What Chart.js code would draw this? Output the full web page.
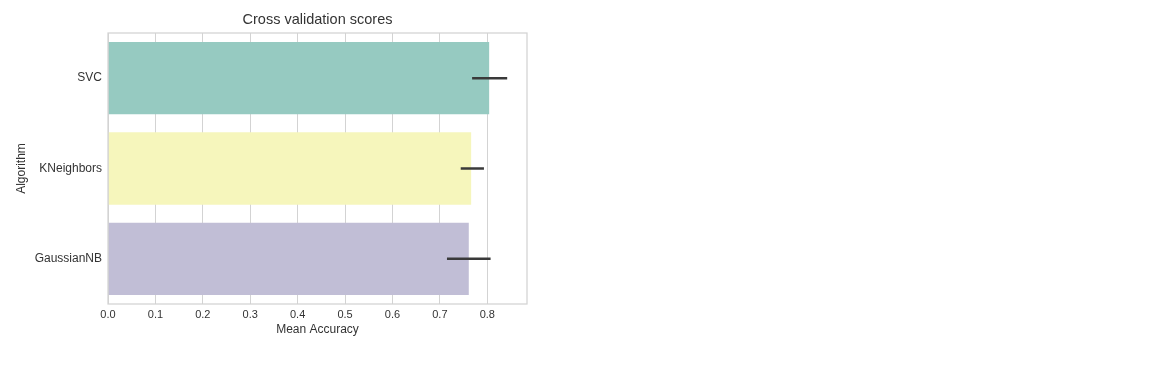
<!DOCTYPE html>
<html>
<head>
<meta charset="utf-8">
<script src="https://cdn.jsdelivr.net/npm/chart.js@4"></script>
<style>
  html, body { margin: 0; padding: 0; background: #ffffff; }
  #wrap { width: 1155px; height: 371px; }
</style>
</head>
<body>
<div id="wrap"><canvas id="c" width="1155" height="371"></canvas></div>
<script>
const algorithms = ["SVC", "KNeighbors", "GaussianNB"];
const meanAccuracy = [0.804, 0.766, 0.761];
const errLow = [0.768, 0.744, 0.715];
const errHigh = [0.842, 0.793, 0.807];
const barColors = ["#96cac1", "#f6f6bc", "#c1bed6"];
const xTicks = [0.0, 0.1, 0.2, 0.3, 0.4, 0.5, 0.6, 0.7, 0.8];

const FONT = "'Liberation Sans', Arial, Helvetica, sans-serif";
const TEXT = "#333333";
const GRID = "#d3d3d3";

const framePlugin = {
  id: 'frame',
  afterDatasetsDraw(chart) {
    const {ctx, chartArea: a} = chart;
    ctx.save();
    ctx.strokeStyle = GRID;
    ctx.lineWidth = 1.25;
    ctx.strokeRect(a.left, a.top, a.right - a.left, a.bottom - a.top);
    ctx.restore();
  }
};

const errorBarPlugin = {
  id: 'errorBars',
  afterDatasetsDraw(chart) {
    const {ctx} = chart;
    const xs = chart.scales.x, ys = chart.scales.y;
    ctx.save();
    ctx.strokeStyle = "#3a3a3a";
    ctx.lineWidth = 2.5;
    ctx.lineCap = 'butt';
    for (let i = 0; i < algorithms.length; i++) {
      const y = ys.getPixelForValue(i);
      ctx.beginPath();
      ctx.moveTo(xs.getPixelForValue(errLow[i]), y);
      ctx.lineTo(xs.getPixelForValue(errHigh[i]), y);
      ctx.stroke();
    }
    ctx.restore();
  }
};

new Chart(document.getElementById('c'), {
  type: 'bar',
  data: {
    labels: algorithms,
    datasets: [{
      data: meanAccuracy,
      backgroundColor: barColors,
      borderWidth: 0,
      categoryPercentage: 0.8,
      barPercentage: 1.0
    }]
  },
  options: {
    indexAxis: 'y',
    responsive: false,
    animation: false,
    devicePixelRatio: 1,
    layout: { padding: { left: 0, right: 628, top: 0, bottom: 0 } },
    plugins: {
      legend: { display: false },
      tooltip: { enabled: false },
      title: {
        display: true,
        text: 'Cross validation scores',
        fullSize: false,
        color: TEXT,
        font: { family: FONT, size: 14.5, weight: 'normal', lineHeight: 1.2 },
        padding: { top: 11.3, bottom: 4.3 }
      }
    },
    scales: {
      x: {
        type: 'linear',
        min: 0,
        max: 0.8838,
        afterFit(scale) { scale.height = 67; },
        afterBuildTicks(scale) { scale.ticks = xTicks.map(v => ({ value: v })); },
        ticks: {
          color: TEXT,
          font: { family: FONT, size: 11 },
          padding: 4,
          maxRotation: 0,
          callback: v => Number(v).toFixed(1)
        },
        grid: { color: GRID, lineWidth: 1, drawTicks: false },
        border: { display: false },
        title: {
          display: true,
          text: 'Mean Accuracy',
          color: TEXT,
          font: { family: FONT, size: 12, lineHeight: 1.2 },
          padding: { top: 0, bottom: 34 }
        }
      },
      y: {
        afterFit(scale) { scale.width = 108; },
        ticks: {
          color: TEXT,
          font: { family: FONT, size: 12 },
          padding: 6
        },
        grid: { display: false, drawTicks: false },
        border: { display: false },
        title: {
          display: true,
          text: 'Algorithm',
          color: TEXT,
          font: { family: FONT, size: 12, lineHeight: 1.2 },
          padding: { top: 14.3, bottom: 0 }
        }
      }
    }
  },
  plugins: [framePlugin, errorBarPlugin]
});
</script>
</body>
</html>
